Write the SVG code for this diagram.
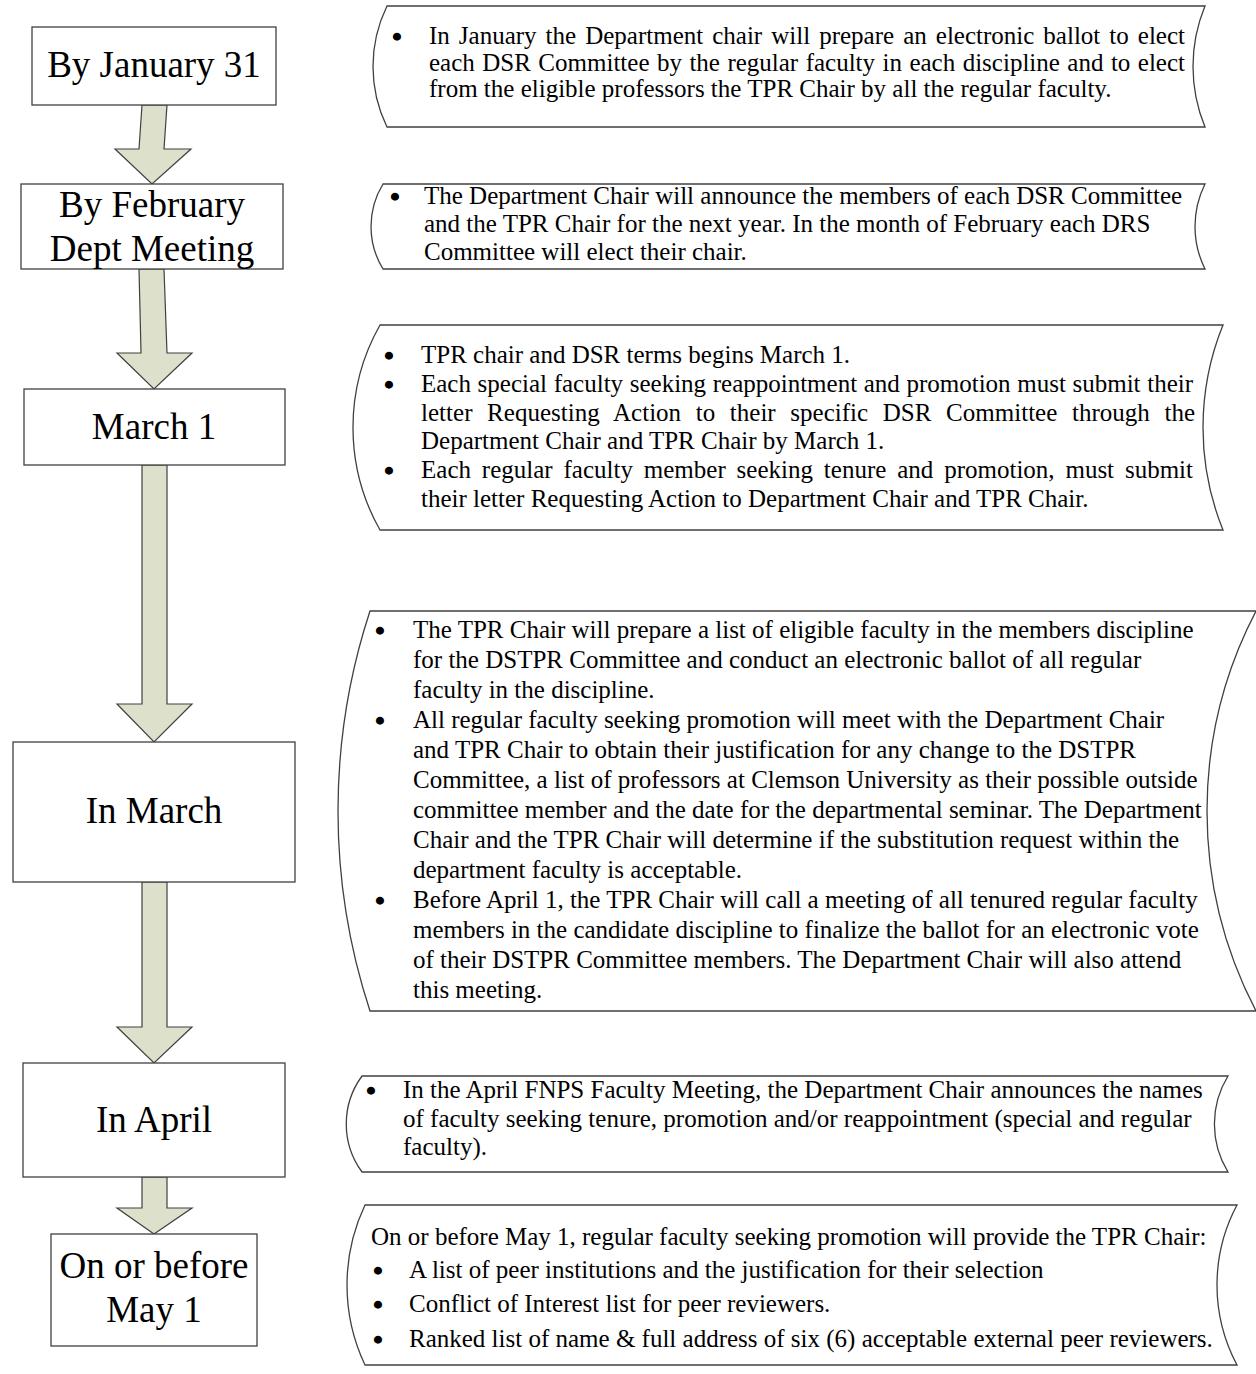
<svg xmlns="http://www.w3.org/2000/svg" width="1256" height="1374" viewBox="0 0 1256 1374">
<style>
.box{fill:#fff;stroke:#404040;stroke-width:1.3}
.arrow{fill:#DDE0CB;stroke:#404040;stroke-width:1.2;stroke-linejoin:miter}
.shape{fill:#fff;stroke:#404040;stroke-width:1.3}
.lbl{font-family:"Liberation Serif","Times New Roman",serif;font-size:37px;fill:#000;text-anchor:middle}
.t{font-family:"Liberation Serif","Times New Roman",serif;font-size:25px;fill:#000}
.b{font-family:"Liberation Serif","Times New Roman",serif;font-size:24px;fill:#000;stroke:#000;stroke-width:2.4;stroke-linejoin:round;text-anchor:middle}
</style>
<rect width="1256" height="1374" fill="#fff"/>
<g id="connectors">
<polygon class="arrow" points="142,105 167,105 164,149 191,149 152,184 115,149 139,149"/>
<polygon class="arrow" points="139,269 164,269 167,353 192,353 154,389 117,353 141,353"/>
<polygon class="arrow" points="142,465 167,465 167,704 192,704 154,742 117,704 142,704"/>
<polygon class="arrow" points="142,882 167,882 167,1027 192,1027 154,1063 117,1027 142,1027"/>
<polygon class="arrow" points="142,1177 167,1177 167,1208 192,1208 154,1234 117,1208 142,1208"/>
</g>
<g id="box-jan">
<rect class="box" x="32" y="27" width="244" height="78"/>
<text class="lbl" x="154" y="77">By January 31</text>
</g>
<g id="box-feb">
<rect class="box" x="21" y="184" width="262" height="85"/>
<text class="lbl" x="152" y="216.5">By February</text>
<text class="lbl" x="152" y="260.5">Dept Meeting</text>
</g>
<g id="box-mar1">
<rect class="box" x="24" y="389" width="261" height="76"/>
<text class="lbl" x="154" y="439">March 1</text>
</g>
<g id="box-inmarch">
<rect class="box" x="13" y="742" width="282" height="140"/>
<text class="lbl" x="154" y="823">In March</text>
</g>
<g id="box-april">
<rect class="box" x="23" y="1063" width="262" height="114"/>
<text class="lbl" x="154" y="1132">In April</text>
</g>
<g id="box-may">
<rect class="box" x="51" y="1234" width="206" height="112"/>
<text class="lbl" x="154" y="1278">On or before</text>
<text class="lbl" x="154" y="1322">May 1</text>
</g>
<g id="note-jan">
<path class="shape" d="M387,6 L1205,6 A158.5,158.5 0 0 0 1205,127 L387,127 A137.7,137.7 0 0 1 387,6 Z"/>
<text class="b" x="397" y="45">•</text>
<text class="t" x="429" y="44" word-spacing="2.8" textLength="756" lengthAdjust="spacing">In January the Department chair will prepare an electronic ballot to elect</text>
<text class="t" x="429" y="71" word-spacing="1.2" textLength="756" lengthAdjust="spacing">each DSR Committee by the regular faculty in each discipline and to elect</text>
<text class="t" x="429" y="97">from the eligible professors the TPR Chair by all the regular faculty.</text>
</g>
<g id="note-feb">
<path class="shape" d="M383,184 L1205,184 A95.3,95.3 0 0 0 1205,269 L383,269 A81.3,81.3 0 0 1 383,184 Z"/>
<text class="b" x="395" y="205">•</text>
<text class="t" x="424" y="204">The Department Chair will announce the members of each DSR Committee</text>
<text class="t" x="424" y="232">and the TPR Chair for the next year. In the month of February each DRS</text>
<text class="t" x="424" y="260">Committee will elect their chair.</text>
</g>
<g id="note-mar1">
<path class="shape" d="M380,325 L1223,325 A272.7,272.7 0 0 0 1223,530 L380,530 A208,208 0 0 1 380,325 Z"/>
<text class="b" x="389" y="364">•</text>
<text class="b" x="389" y="393">•</text>
<text class="b" x="389" y="479">•</text>
<text class="t" x="421" y="363">TPR chair and DSR terms begins March 1.</text>
<text class="t" x="421" y="392" word-spacing="0.4" textLength="772" lengthAdjust="spacing">Each special faculty seeking reappointment and promotion must submit their</text>
<text class="t" x="421" y="420.5" word-spacing="8.3" textLength="774" lengthAdjust="spacing">letter Requesting Action to their specific DSR Committee through the</text>
<text class="t" x="421" y="449">Department Chair and TPR Chair by March 1.</text>
<text class="t" x="421" y="478" word-spacing="4.6" textLength="772" lengthAdjust="spacing">Each regular faculty member seeking tenure and promotion, must submit</text>
<text class="t" x="421" y="506.5">their letter Requesting Action to Department Chair and TPR Chair.</text>
</g>
<g id="note-inmarch">
<path class="shape" d="M370,611 L1256,611 A432.7,432.7 0 0 0 1256,1011 L370,1011 A641,641 0 0 1 370,611 Z"/>
<text class="b" x="380" y="639">•</text>
<text class="b" x="380" y="729">•</text>
<text class="b" x="380" y="909">•</text>
<text class="t" x="413" y="638">The TPR Chair will prepare a list of eligible faculty in the members discipline</text>
<text class="t" x="413" y="668">for the DSTPR Committee and conduct an electronic ballot of all regular</text>
<text class="t" x="413" y="698">faculty in the discipline.</text>
<text class="t" x="413" y="728">All regular faculty seeking promotion will meet with the Department Chair</text>
<text class="t" x="413" y="758">and TPR Chair to obtain their justification for any change to the DSTPR</text>
<text class="t" x="413" y="788">Committee, a list of professors at Clemson University as their possible outside</text>
<text class="t" x="413" y="818">committee member and the date for the departmental seminar. The Department</text>
<text class="t" x="413" y="848">Chair and the TPR Chair will determine if the substitution request within the</text>
<text class="t" x="413" y="878">department faculty is acceptable.</text>
<text class="t" x="413" y="908">Before April 1, the TPR Chair will call a meeting of all tenured regular faculty</text>
<text class="t" x="413" y="938">members in the candidate discipline to finalize the ballot for an electronic vote</text>
<text class="t" x="413" y="968">of their DSTPR Committee members. The Department Chair will also attend</text>
<text class="t" x="413" y="998">this meeting.</text>
</g>
<g id="note-april">
<path class="shape" d="M362,1076 L1228,1076 A91.5,91.5 0 0 0 1228,1172 L362,1172 A81.1,81.1 0 0 1 362,1076 Z"/>
<text class="b" x="371" y="1099">•</text>
<text class="t" x="403" y="1098">In the April FNPS Faculty Meeting, the Department Chair announces the names</text>
<text class="t" x="403" y="1127">of faculty seeking tenure, promotion and/or reappointment (special and regular</text>
<text class="t" x="403" y="1155">faculty).</text>
</g>
<g id="note-may">
<path class="shape" d="M365,1205 L1237,1205 A170,170 0 0 0 1237,1365 L365,1365 A186.8,186.8 0 0 1 365,1205 Z"/>
<text class="t" x="371" y="1245">On or before May 1, regular faculty seeking promotion will provide the TPR Chair:</text>
<text class="b" x="378" y="1279">•</text>
<text class="b" x="378" y="1313">•</text>
<text class="b" x="378" y="1348">•</text>
<text class="t" x="409" y="1278">A list of peer institutions and the justification for their selection</text>
<text class="t" x="409" y="1312">Conflict of Interest list for peer reviewers.</text>
<text class="t" x="409" y="1347">Ranked list of name &amp; full address of six (6) acceptable external peer reviewers.</text>
</g>
</svg>
